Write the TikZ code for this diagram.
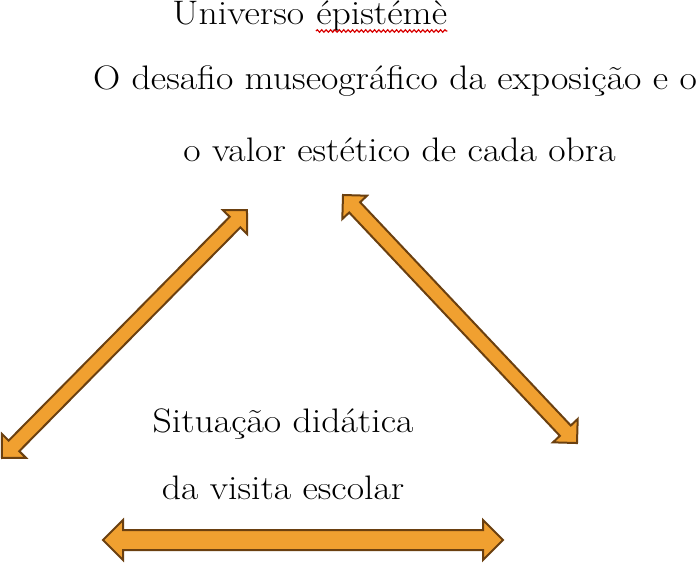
\documentclass[tikz,border=0pt]{standalone}
\usepackage{fontspec}
\usetikzlibrary{decorations.pathmorphing}
\definecolor{arrfill}{HTML}{F0A030}
\definecolor{arrline}{HTML}{6B4010}
\newcommand\wtxt[1]{\scalebox{1.11}[1]{#1}}
\tikzset{
  lbl/.style={inner sep=0pt, anchor=base, font=\fontsize{17}{20}\selectfont},
  blockarr/.style={fill=arrfill, draw=arrline, line width=1pt, line join=miter},
  squiggle/.style={red!85!black, line width=0.6pt, decorate, decoration={snake, amplitude=0.6pt, segment length=2.2pt}}
}
% #1 start coordinate, #2 angle, #3 length, #4 shaft half width, #5 head half width, #6 head length
\newcommand\dblblockarrow[6]{%
  \begin{scope}[shift={#1}, rotate=#2]
    \draw[blockarr] (0,0) -- (#6,#5) -- (#6,#4) -- (#3-#6,#4) -- (#3-#6,#5) -- (#3,0)
      -- (#3-#6,-#5) -- (#3-#6,-#4) -- (#6,-#4) -- (#6,-#5) -- cycle;
  \end{scope}}
\begin{document}
\begin{tikzpicture}[x=1pt,y=1pt]
  \useasboundingbox (0,0) rectangle (350,281);
  % text
  \node[lbl, anchor=base west] (univ) at (86,268.5) {\wtxt{Universo\ }};
  \node[lbl, anchor=base west] (epi) at (univ.base east) {\wtxt{épistémè}};
  \draw[squiggle] ([yshift=-3pt]epi.base west) -- ([yshift=-3pt]epi.base east);
  \node[lbl] (desafio) at (197.5,236) {\wtxt{O desafio museográfico da exposição e o}};
  \node[lbl] (valor) at (199.75,200) {\wtxt{o valor estético de cada obra}};
  \node[lbl] (sit) at (141.5,65) {\wtxt{Situação didática}};
  \node[lbl] (visita) at (141.5,31.5) {\wtxt{da visita escolar}};
  % arrow anchor points
  \coordinate (hstart) at (51.5,11);
  \coordinate (lstart) at (1,52);
  \coordinate (rstart) at (171.5,183.5);
  % arrows
  \dblblockarrow{(hstart)}{0}{200}{5}{10}{10}
  \dblblockarrow{(lstart)}{45.35}{174.3}{3.75}{8.5}{8.5}
  \dblblockarrow{(rstart)}{-46.67}{170.5}{3.75}{8.5}{8.5}
\end{tikzpicture}
\end{document}
